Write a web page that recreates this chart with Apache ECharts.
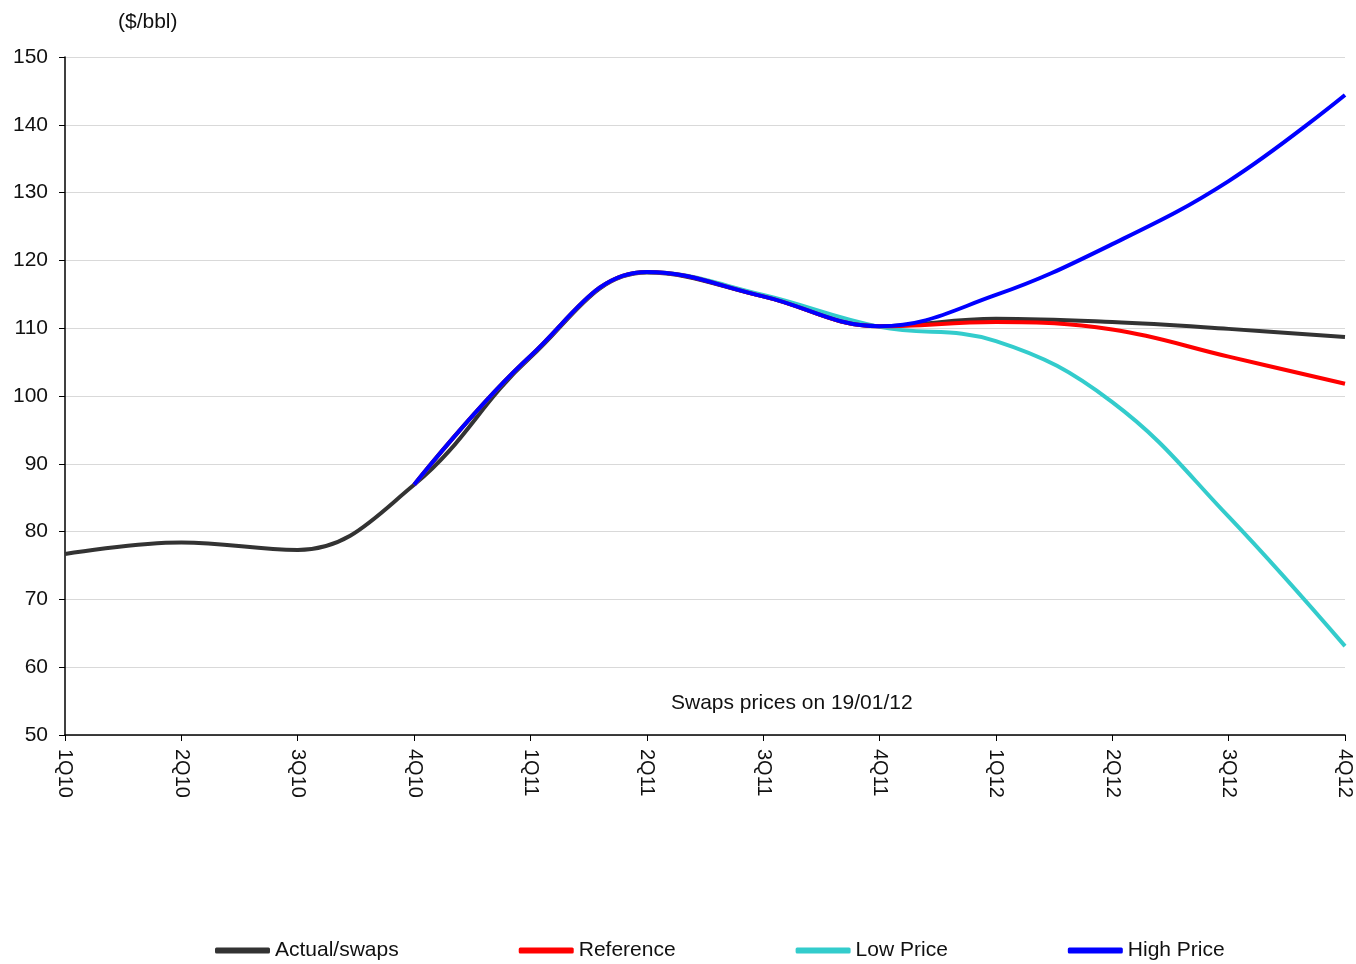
<!DOCTYPE html>
<html>
<head>
<meta charset="utf-8">
<title>Oil price scenarios</title>
<script src="https://cdn.jsdelivr.net/npm/echarts@6/dist/echarts.min.js"></script>
<style>
  html, body { margin: 0; padding: 0; background: #fff; }
  #chart { width: 1356px; height: 964px; }
</style>
</head>
<body>
<div id="chart"></div>
<script>
// quarters on the x axis
const quarters = ['1Q10', '2Q10', '3Q10', '4Q10', '1Q11', '2Q11', '3Q11', '4Q11', '1Q12', '2Q12', '3Q12', '4Q12'];

// $/bbl
const actualSwaps = [76.7, 78.4, 77.3, 86.9, 105.7, 118.2, 114.7, 110.3, 111.4, 110.9, 109.9, 108.7];
const reference   = [null, null, null, 86.9, 105.9, 118.3, 114.7, 110.3, 110.9, 109.8, 105.8, 101.8];
const lowPrice    = [null, null, null, 86.9, 105.9, 118.3, 114.9, 110.2, 108.1, 99.1, 82.2, 63.1];
const highPrice   = [null, null, null, 86.9, 105.9, 118.3, 114.7, 110.3, 114.9, 122.4, 131.7, 144.4];

const font = 'Liberation Sans, Arial, sans-serif';

function lineSeries(name, data, color, z) {
    return {
        name: name,
        type: 'line',
        data: data,
        smooth: 0.4,
        showSymbol: false,
        symbol: 'none',
        connectNulls: false,
        z: z,
        lineStyle: { color: color, width: 4 },
        itemStyle: { color: color },
        animation: false
    };
}

const chart = echarts.init(document.getElementById('chart'));

chart.setOption({
    backgroundColor: '#fff',
    textStyle: { fontFamily: font },
    grid: { left: 65, right: 11, top: 57, bottom: 229, containLabel: false },
    legend: {
        top: 935,
        left: 210,
        itemWidth: 55,
        itemHeight: 6,
        itemGap: 120,
        icon: 'roundRect',
        textStyle: { fontSize: 21, color: '#111', fontFamily: font },
        data: ['Actual/swaps', 'Reference', 'Low Price', 'High Price']
    },
    graphic: [
        {
            type: 'text', left: 118, top: 12,
            style: { text: '($/bbl)', font: '21px ' + font, fill: '#111' }
        },
        {
            type: 'text', left: 671, top: 693,
            style: { text: 'Swaps prices on 19/01/12', font: '21px ' + font, fill: '#111' }
        }
    ],
    xAxis: {
        type: 'category',
        data: quarters,
        boundaryGap: false,
        axisLine: { lineStyle: { color: '#000', width: 1.5 } },
        axisTick: { show: true, alignWithLabel: true, length: 6, lineStyle: { color: '#000' } },
        axisLabel: { rotate: -90, margin: 14, fontSize: 20, color: '#111', fontFamily: font, interval: 0 },
        splitLine: { show: false }
    },
    yAxis: {
        type: 'value',
        min: 50,
        max: 150,
        interval: 10,
        axisLine: { show: true, lineStyle: { color: '#000', width: 1.5 } },
        axisTick: { show: true, length: 6, lineStyle: { color: '#000' } },
        axisLabel: { margin: 17, fontSize: 21, color: '#111', fontFamily: font },
        splitLine: { lineStyle: { color: '#d9d9d9', width: 1 } }
    },
    series: [
        lineSeries('Actual/swaps', actualSwaps, '#333333', 2),
        lineSeries('Low Price', lowPrice, '#33cccc', 3),
        lineSeries('Reference', reference, '#ff0000', 4),
        lineSeries('High Price', highPrice, '#0000ff', 5)
    ]
});
</script>
</body>
</html>
